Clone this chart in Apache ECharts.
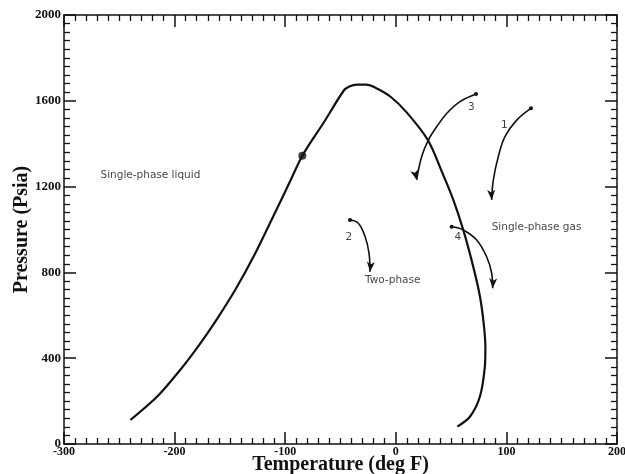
<!DOCTYPE html>
<html>
<head>
<meta charset="utf-8">
<script src="https://cdn.jsdelivr.net/npm/echarts@6/dist/echarts.min.js"></script>
<style>html,body{margin:0;padding:0;background:#fff;}#c{width:625px;height:474px;}</style>
</head>
<body>
<div id="c"></div>
<script>
// Phase envelope (Temperature deg F, Pressure psia)
var envelopeT = [-240, -215, -195, -178, -162, -145, -128, -110, -96, -84.5, -65, -47, -42, -35, -27, -18, -5, 10, 29, 42, 52, 61, 70, 76, 79.5, 81, 80.5, 76, 67, 55.6];
var envelopeP = [112, 225, 345, 460, 580, 720, 880, 1070, 1220, 1344, 1500, 1648, 1667, 1675, 1675, 1660, 1620, 1545, 1417, 1265, 1138, 998, 827, 690, 560, 450, 360, 220, 127, 81];
var criticalPoint = [-84.5, 1344];

// Process paths (arrows)
var path1T = [122.2, 109.3, 98.7, 92.7, 88.2, 86.7];
var path1P = [1565, 1510, 1433, 1340, 1231, 1138];
var path2T = [-41.4, -33.9, -27.8, -24.2, -23.3];
var path2P = [1044, 1029, 967, 889, 803];
var path3T = [72.5, 58, 46, 37, 29.4, 23.4, 18.9];
var path3P = [1632, 1596, 1541, 1479, 1417, 1340, 1231];
var path4T = [50.5, 61, 73.1, 82.1, 86.7, 87.6];
var path4P = [1013, 998, 951, 873, 796, 726];

// Region labels and path numbers
var labelText = ["Single-phase liquid", "Single-phase gas", "Two-phase", "1", "2", "3", "4"];
var labelT = [-267, 86.7, -27.8, 95.1, -45.5, 65.3, 53];
var labelP = [1254, 1010, 761, 1487, 966, 1571, 966];

var xTicks = [-300, -200, -100, 0, 100, 200];
var yTicks = [0, 400, 800, 1200, 1600, 2000];

function pairs(a, b) { return a.map(function (v, i) { return [v, b[i]]; }); }

function arrowData(T, P, rot) {
  return T.map(function (t, i) {
    var item = { value: [t, P[i]], symbol: 'none' };
    if (i === 0) { item.symbol = 'circle'; item.symbolSize = 4; }
    if (i === T.length - 1) { item.symbol = 'arrow'; item.symbolSize = [6, 10]; item.symbolRotate = rot; }
    return item;
  });
}

var chart = echarts.init(document.getElementById('c'), null, { renderer: 'canvas' });
var ink = '#111';
var serif = '"Liberation Serif", "DejaVu Serif", serif';

function axisCommon(extra) {
  var o = {
    axisLine: { show: true, onZero: false, lineStyle: { color: ink, width: 1.5 } },
    axisTick: { show: true, inside: true, length: 12, lineStyle: { color: ink, width: 1.5 } },
    minorTick: { show: true, splitNumber: 10, length: 6, lineStyle: { color: ink, width: 1.3 } },
    splitLine: { show: false },
    minorSplitLine: { show: false }
  };
  for (var k in extra) o[k] = extra[k];
  return o;
}

var option = {
  backgroundColor: '#fff',
  animation: false,
  grid: { left: 64, right: 8, top: 15, bottom: 30, containLabel: false, outerBoundsMode: 'none' },
  xAxis: [
    axisCommon({
      type: 'value', min: -300, max: 200, interval: 100, position: 'bottom',
      name: 'Temperature (deg F)', nameLocation: 'middle', nameGap: 11, nameMoveOverlap: false,
      nameTextStyle: { fontFamily: serif, fontWeight: 'bold', fontSize: 20, color: ink },
      axisLabel: { show: true, margin: 2, fontFamily: serif, fontWeight: 'bold', fontSize: 12, color: ink,
        formatter: function (v) { return xTicks.indexOf(v) >= 0 ? String(v) : ''; } }
    }),
    axisCommon({
      type: 'value', min: -300, max: 200, interval: 100, position: 'top',
      axisLabel: { show: false }
    })
  ],
  yAxis: [
    axisCommon({
      type: 'value', min: 0, max: 2000, interval: 400, position: 'left',
      name: 'Pressure (Psia)', nameLocation: 'middle', nameGap: 32, nameRotate: 90, nameMoveOverlap: false,
      nameTextStyle: { fontFamily: serif, fontWeight: 'bold', fontSize: 20, color: ink },
      axisLabel: { show: true, margin: 3, fontFamily: serif, fontWeight: 'bold', fontSize: 13, color: ink,
        formatter: function (v) { return yTicks.indexOf(v) >= 0 ? String(v) : ''; } }
    }),
    axisCommon({
      type: 'value', min: 0, max: 2000, interval: 400, position: 'right',
      axisLabel: { show: false }
    })
  ],
  series: [
    {
      type: 'line', data: pairs(envelopeT, envelopeP), smooth: 0.3, showSymbol: false,
      lineStyle: { color: ink, width: 2.2 }, z: 3
    },
    {
      type: 'scatter', data: [criticalPoint], symbol: 'circle', symbolSize: 8,
      itemStyle: { color: ink }, z: 4
    },
    { type: 'line', data: arrowData(path1T, path1P, 183), smooth: 0.4, lineStyle: { color: ink, width: 1.6 }, itemStyle: { color: ink } },
    { type: 'line', data: arrowData(path2T, path2P, 175), smooth: 0.4, lineStyle: { color: ink, width: 1.6 }, itemStyle: { color: ink } },
    { type: 'line', data: arrowData(path3T, path3P, 194), smooth: 0.4, lineStyle: { color: ink, width: 1.6 }, itemStyle: { color: ink } },
    { type: 'line', data: arrowData(path4T, path4P, 177), smooth: 0.4, lineStyle: { color: ink, width: 1.6 }, itemStyle: { color: ink } },
    {
      type: 'scatter', symbolSize: 0,
      data: labelText.map(function (t, i) { return { value: [labelT[i], labelP[i]], name: t }; }),
      label: {
        show: true, position: 'right', distance: 0, formatter: '{b}',
        fontFamily: '"DejaVu Sans", sans-serif', fontSize: 10.5, color: '#111'
      }
    }
  ]
};
chart.setOption(option);
</script>
</body>
</html>
